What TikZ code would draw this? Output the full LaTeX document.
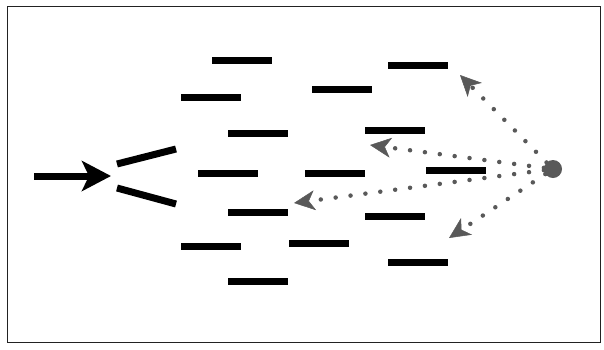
\documentclass[tikz,border=0pt]{standalone}
\usetikzlibrary{arrows.meta}
\definecolor{dotgray}{HTML}{595959}
\definecolor{framegray}{HTML}{222222}
\tikzset{
  bar/.style={fill=black, inner sep=0pt, minimum width=60pt, minimum height=7pt},
  vbar/.style={line width=7pt, black},
  bigarrow/.style={line width=7pt, -{Stealth[length=29pt,width=30pt,inset=7pt]}},
  dotarrow/.style={dotgray, line width=4.5pt, line cap=round, dash pattern=on 0pt off 15pt,
     -{Stealth[length=21pt,width=20pt,inset=6pt,line width=0.5pt]}},
  source/.style={circle, fill=dotgray, inner sep=0pt, minimum size=18pt}
}
\begin{document}
\begin{tikzpicture}[x=1pt,y=-1pt]
\useasboundingbox (0,0) rectangle (604,349);
\draw[framegray, line width=1.8pt] (7.5,6.5) rectangle (600.5,342.5);
% bars
\node[bar] (b1) at (242,60) {};
\node[bar] (b2) at (211,97) {};
\node[bar] (b3) at (258,133) {};
\node[bar] (b4) at (228,173) {};
\node[bar] (b5) at (258,212) {};
\node[bar] (b6) at (211,246) {};
\node[bar] (b7) at (258,281) {};
\node[bar] (b8) at (342,89) {};
\node[bar] (b9) at (335,173) {};
\node[bar] (b10) at (319,243) {};
\node[bar] (b11) at (418,65) {};
\node[bar] (b12) at (395,130) {};
\node[bar] (b13) at (456,170) {};
\node[bar] (b14) at (395,216) {};
\node[bar] (b15) at (418,262) {};
% incoming arrow and V
\coordinate (arrowstart) at (34,176);
\coordinate (arrowtip) at (111,176);
\draw[bigarrow] (arrowstart) -- (arrowtip);
\coordinate (v1a) at (117,164);
\coordinate (v1b) at (176,149);
\coordinate (v2a) at (117,188);
\coordinate (v2b) at (176,204);
\draw[vbar] (v1a) -- (v1b);
\draw[vbar] (v2a) -- (v2b);
% source
\node[source] (src) at (553,169) {};
\coordinate (t1) at (460,75);
\coordinate (t2) at (370,145);
\coordinate (t3) at (294,203);
\coordinate (t4) at (449,238);
\draw[dotarrow] (src) -- (t1);
\draw[dotarrow] (src) -- (t2);
\draw[dotarrow] (src) -- (t3);
\draw[dotarrow] (src) -- (t4);
\end{tikzpicture}
\end{document}
